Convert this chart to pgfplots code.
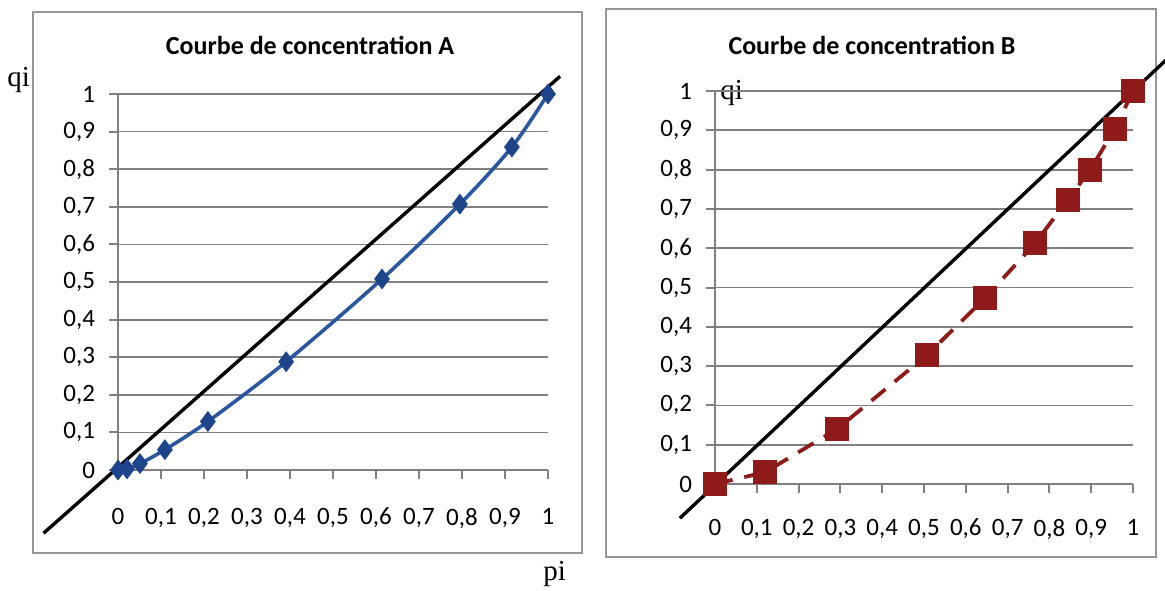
\documentclass[border=0pt]{standalone}
\usepackage{fontspec}
\setmainfont{Liberation Serif}
\newfontfamily\carlito{Carlito}
\usepackage{pgfplots}
\pgfplotsset{compat=1.18}
\definecolor{serA}{RGB}{43,87,160}
\definecolor{mkA}{RGB}{30,68,140}
\definecolor{serB}{RGB}{142,26,26}
\definecolor{gridc}{RGB}{128,128,128}
\definecolor{framec}{RGB}{150,150,150}
\pgfplotsset{conc/.style={
  scale only axis, clip=false,
  xmin=0,xmax=1,ymin=0,ymax=1,
  axis x line*=bottom, axis y line*=left,
  axis line style={-,draw=gridc,line width=1pt},
  xtick={0,0.1,0.2,0.3,0.4,0.5,0.6,0.7,0.8,0.9,1},
  ytick={0,0.1,0.2,0.3,0.4,0.5,0.6,0.7,0.8,0.9,1},
  tick align=outside, major tick length=4.5pt,
  tick style={draw=gridc,line width=1pt},
  ymajorgrids, grid style={draw=gridc,line width=0.9pt},
  /pgf/number format/assume math mode=true,
  /pgf/number format/use comma,
  ticklabel style={font=\carlito\fontsize{12.5}{14}\selectfont, text=black},
  yticklabel style={xshift=-3.5pt},
}}
\begin{document}
\begin{tikzpicture}
\useasboundingbox (0pt,0pt) rectangle (582.5pt,295pt);
\draw[framec,line width=1.2pt] (16.5pt,18.5pt) rectangle (291pt,289pt);
\draw[framec,line width=1.2pt] (303pt,16.5pt) rectangle (578pt,290.5pt);
\node[font=\carlito\bfseries\fontsize{13}{15}\selectfont] at (155pt,272.5pt) {Courbe de concentration A};
\node[font=\carlito\bfseries\fontsize{13}{15}\selectfont] at (436pt,272.5pt) {Courbe de concentration B};
\node[anchor=base west,font=\fontsize{14.5}{16}\selectfont,inner sep=0pt] at (3.5pt,251.5pt) {qi};
\node[anchor=base west,font=\fontsize{14.5}{16}\selectfont,inner sep=0pt] at (271.5pt,5pt) {pi};
\node[anchor=base west,font=\fontsize{14.5}{16}\selectfont,inner sep=0pt] at (360pt,245pt) {qi};

\begin{axis}[conc, at={(59pt,60pt)}, anchor=south west, width=215pt, height=188pt,
  xticklabel style={yshift=-11pt}]
\addplot[color=serA, line width=1.8pt, smooth, mark=diamond*, mark size=4.6pt,
  mark options={fill=mkA,draw=mkA,line width=0.8pt}]
  coordinates {(0,0) (0.021,0.003) (0.051,0.017) (0.109,0.054) (0.209,0.129)
  (0.391,0.288) (0.614,0.508) (0.795,0.707) (0.916,0.859) (1,1)};
\addplot[black, line width=1.7pt] coordinates {(-0.173,-0.168) (1.028,1.047)};
\end{axis}

\begin{axis}[conc, at={(357.5pt,53pt)}, anchor=south west, width=209pt, height=196.5pt,
  xticklabel style={yshift=-9.5pt}]
\addplot[color=serB, line width=1.9pt, dash pattern=on 9pt off 6pt, mark=square*, mark size=5pt,
  mark options={solid,fill=serB,draw=serB}]
  coordinates {(0,0) (0.12,0.03) (0.292,0.14) (0.507,0.328) (0.646,0.473)
  (0.766,0.613) (0.844,0.723) (0.897,0.799) (0.957,0.904) (1,1)};
\addplot[black, line width=1.7pt] coordinates {(-0.084,-0.087) (1.1,1.1)};
\end{axis}
\end{tikzpicture}
\end{document}
